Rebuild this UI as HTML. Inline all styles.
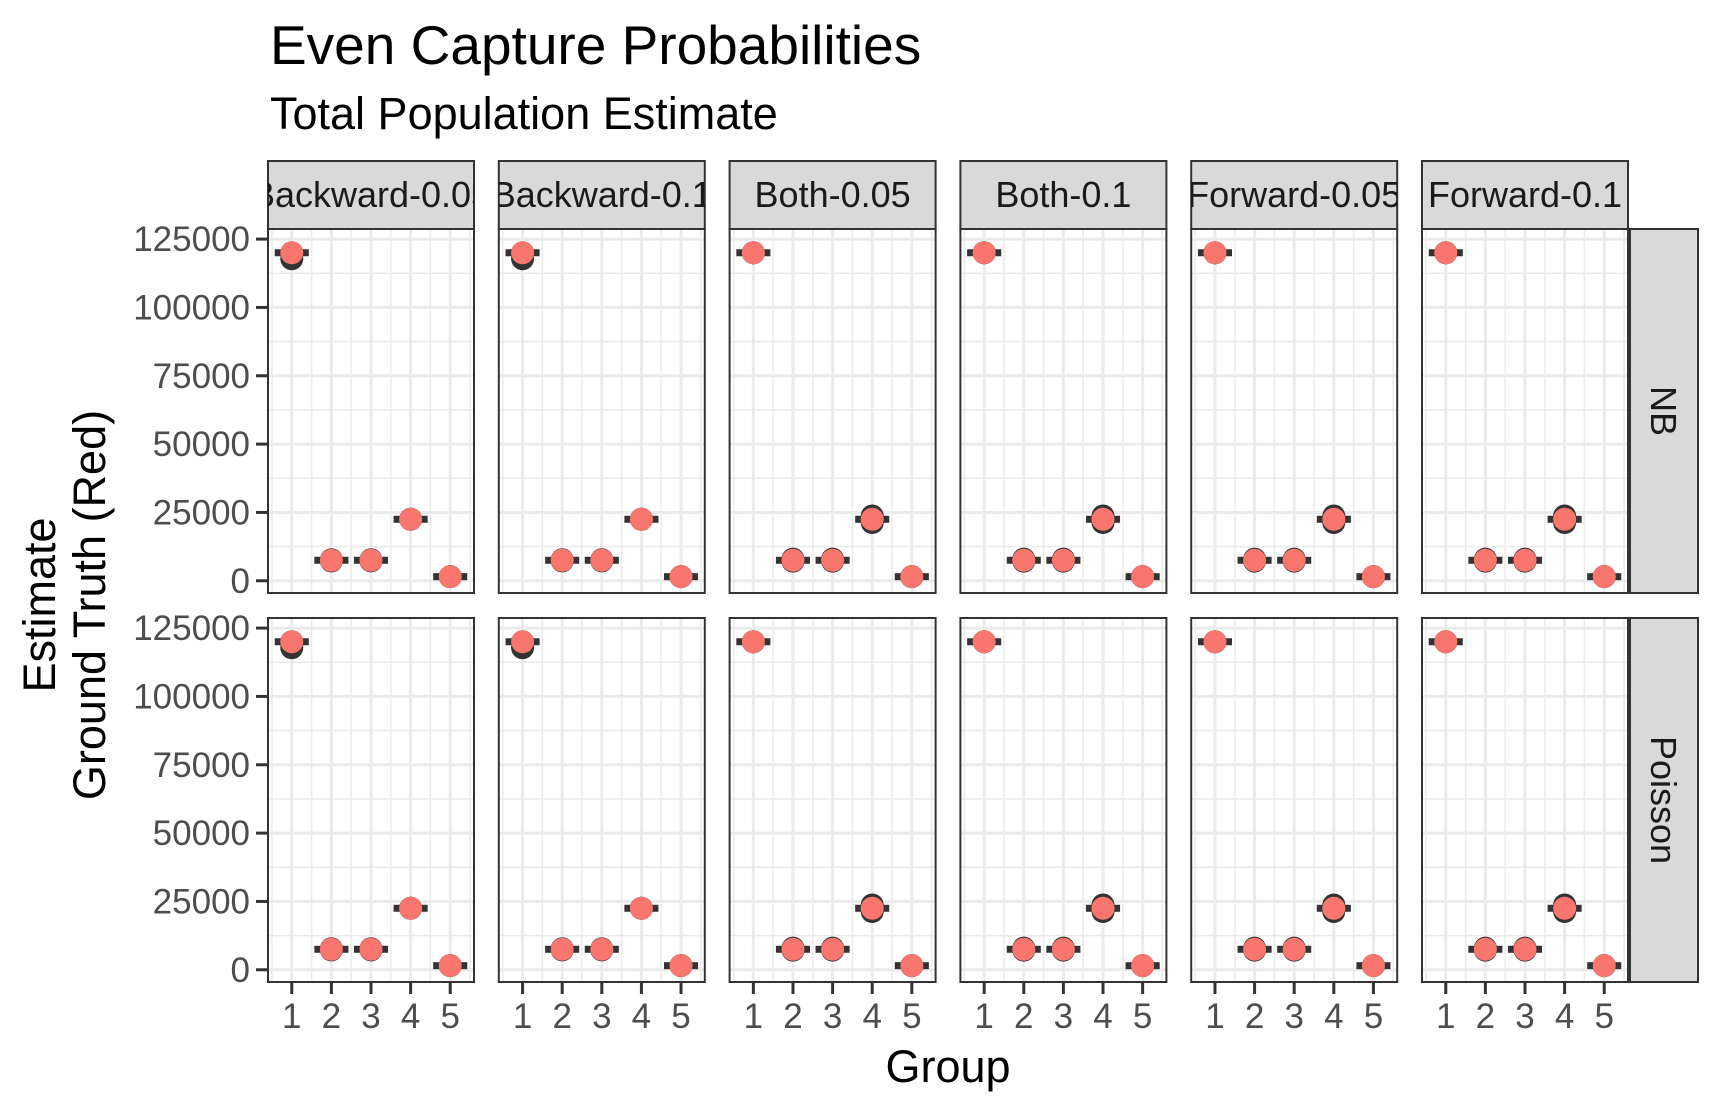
<!DOCTYPE html>
<html><head><meta charset="utf-8"><style>
html,body{margin:0;padding:0;background:#fff;}
svg{display:block;font-family:"Liberation Sans",Arial,sans-serif;}
</style></head><body>
<svg id="chart" width="1722" height="1111" viewBox="0 0 1722 1111">
<text x="270" y="64" font-size="55" fill="#000">Even Capture Probabilities</text>
<text x="270" y="129" font-size="45" fill="#000">Total Population Estimate</text>
<text x="948" y="1082" font-size="45" text-anchor="middle" fill="#000">Group</text>
<g transform="translate(55,605) rotate(-90)">
<text x="0" y="0" font-size="45" text-anchor="middle" fill="#000">Estimate</text>
<text x="0" y="50" font-size="45" text-anchor="middle" fill="#000">Ground Truth (Red)</text>
</g>
<g id="panels"></g>
</svg>
<script>
const columns = ["Backward-0.05","Backward-0.1","Both-0.05","Both-0.1","Forward-0.05","Forward-0.1"];
const columnLabels = ["Backward-0.05","Backward-0.1","Both-0.05","Both-0.1","Forward-0.05","Forward-0.1"];
const rows = ["NB","Poisson"];
const groups = [1,2,3,4,5];
const yTicks = [0,25000,50000,75000,100000,125000];
const truth = [120000,7500,7500,22500,1500];
// estimate low/high per column (same for NB & Poisson)
const estLoBackward = [117800,7300,7300,22500,1500];
const estHiBackward = [120000,7700,7700,22500,1500];
const estLoBoth = [120000,7200,7200,21300,1500];
const estHiBoth = [120000,7900,7900,23700,1500];
const estLo = [estLoBackward,estLoBackward,estLoBoth,estLoBoth,estLoBoth,estLoBoth];
const estHi = [estHiBackward,estHiBackward,estHiBoth,estHiBoth,estHiBoth,estHiBoth];

const NS="http://www.w3.org/2000/svg";
const root=document.getElementById('panels');
function mk(tag,attrs,parent){const e=document.createElementNS(NS,tag);for(const k in attrs)e.setAttribute(k,attrs[k]);(parent||root).appendChild(e);return e;}
const PW=206, PSTEP=230.8, PX0=268;
const rowTop=[229,618], PH=364;
const xMin=0.4,xMax=5.6, yMin=-4470, yMax=128690;
function xs(c,v){return PX0+c*PSTEP+(v-xMin)/(xMax-xMin)*PW;}
function ys(r,v){return rowTop[r]+PH-(v-yMin)/(yMax-yMin)*PH;}

for(let r=0;r<rows.length;r++){
  for(let c=0;c<columns.length;c++){
    const g=mk('g',{});
    
    
    const x0=PX0+c*PSTEP, y0=rowTop[r];
    mk('rect',{x:x0,y:y0,width:PW,height:PH,fill:'#fff'},g);
    for(let i=0;i<yTicks.length-1;i++){const v=(yTicks[i]+yTicks[i+1])/2;mk('line',{x1:x0,x2:x0+PW,y1:ys(r,v),y2:ys(r,v),stroke:'#EBEBEB','stroke-width':1.5},g);}
    for(let i=0;i<groups.length-1;i++){const v=(groups[i]+groups[i+1])/2;mk('line',{x1:xs(c,v),x2:xs(c,v),y1:y0,y2:y0+PH,stroke:'#EBEBEB','stroke-width':1.5},g);}
    {const v=groups[0]-0.5;mk('line',{x1:xs(c,v),x2:xs(c,v),y1:y0,y2:y0+PH,stroke:'#EBEBEB','stroke-width':1.5},g);
     const w=groups[groups.length-1]+0.5;mk('line',{x1:xs(c,w),x2:xs(c,w),y1:y0,y2:y0+PH,stroke:'#EBEBEB','stroke-width':1.5},g);}
    {const v=yTicks[yTicks.length-1]+12500; if(ys(r,v)>y0) mk('line',{x1:x0,x2:x0+PW,y1:ys(r,v),y2:ys(r,v),stroke:'#EBEBEB','stroke-width':1.5},g);}
    yTicks.forEach(v=>{const l=mk('line',{x1:x0,x2:x0+PW,y1:ys(r,v),y2:ys(r,v),stroke:'#EBEBEB','stroke-width':3},g);});
    groups.forEach(v=>{const l=mk('line',{x1:xs(c,v),x2:xs(c,v),y1:y0,y2:y0+PH,stroke:'#EBEBEB','stroke-width':3},g);});
    groups.forEach((gv,i)=>{
      const cx=xs(c,gv);
      const bar=mk('rect',{x:xs(c,gv-0.43),y:ys(r,truth[i])-3.5,width:xs(c,gv+0.43)-xs(c,gv-0.43),height:7,fill:'#333333'},g);
      
      
      [estLo[c][i],estHi[c][i]].forEach(v=>{
        const p=mk('circle',{cx:cx,cy:ys(r,v),r:11.5,fill:'#333333'},g);
        
        
      });
      const t=mk('circle',{cx:cx,cy:ys(r,truth[i]),r:11.5,fill:'#F8766D'},g);
      
      
    });
    mk('rect',{x:x0,y:y0,width:PW,height:PH,fill:'none',stroke:'#333333','stroke-width':2},g);
    if(c===0){
      yTicks.forEach(v=>{
        mk('line',{x1:x0-12,x2:x0,y1:ys(r,v),y2:ys(r,v),stroke:'#333333','stroke-width':3},g);
        const t=mk('text',{x:x0-18,y:ys(r,v)+12,'font-size':35,'text-anchor':'end',fill:'#4D4D4D'},g);
        t.textContent=v;
        
        
      });
    }
    if(r===rows.length-1){
      groups.forEach(v=>{
        mk('line',{x1:xs(c,v),x2:xs(c,v),y1:y0+PH,y2:y0+PH+12,stroke:'#333333','stroke-width':3},g);
        const t=mk('text',{x:xs(c,v),y:1028,'font-size':35,'text-anchor':'middle',fill:'#4D4D4D'},g);
        t.textContent=v;
        
        
      });
    }
    if(r===0){
      const sg=mk('g',{});
      
      
      const cp=mk('clipPath',{id:'clip'+c},sg);
      mk('rect',{x:x0,y:161,width:PW,height:68},cp);
      mk('rect',{x:x0,y:161,width:PW,height:68,fill:'#D9D9D9',stroke:'#333333','stroke-width':2},sg);
      const t=mk('text',{x:x0+PW/2,y:207,'font-size':36,'text-anchor':'middle',fill:'#1A1A1A','clip-path':'url(#clip'+c+')'},sg);
      t.textContent=columnLabels[c];
    }
  }
  const sg=mk('g',{});
  
  
  mk('rect',{x:1630,y:rowTop[r],width:68,height:PH,fill:'#D9D9D9',stroke:'#333333','stroke-width':2},sg);
  const t=mk('text',{x:0,y:0,'font-size':36,'text-anchor':'middle',fill:'#1A1A1A',transform:'translate(1651,'+(rowTop[r]+PH/2)+') rotate(90)'},sg);
  t.textContent=rows[r];
}
</script>
</body></html>
